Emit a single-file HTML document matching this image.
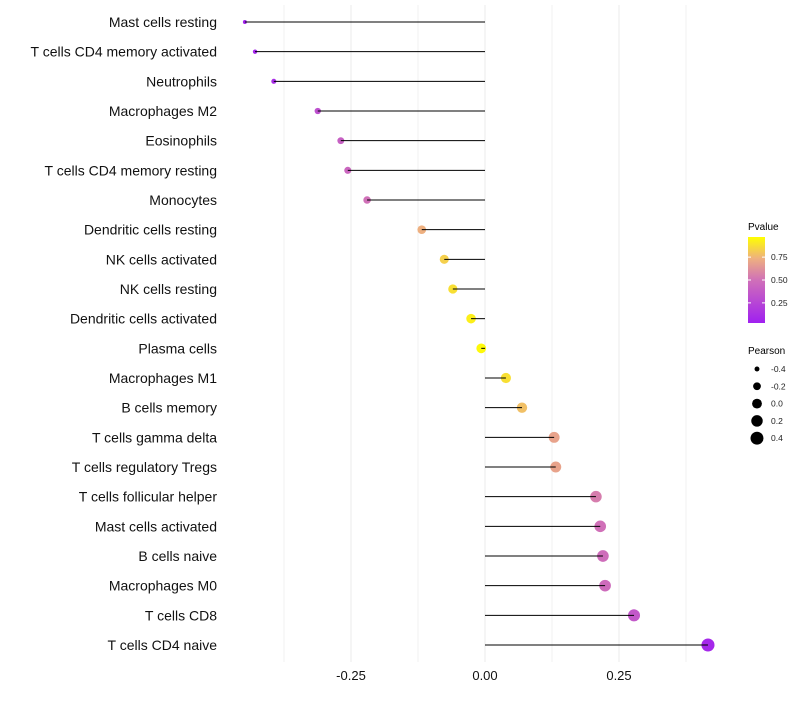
<!DOCTYPE html>
<html><head><meta charset="utf-8"><style>
body{margin:0;background:#fff;font-family:"Liberation Sans",sans-serif}
</style></head><body>
<svg id="c" width="800" height="700" xmlns="http://www.w3.org/2000/svg" font-family="Liberation Sans, sans-serif">
<defs><linearGradient id="pg" x1="0" y1="1" x2="0" y2="0">
<stop offset="0" stop-color="#a020f0"/><stop offset="0.5" stop-color="#d070b8"/><stop offset="0.75" stop-color="#eeb080"/><stop offset="1" stop-color="#ffff00"/></linearGradient></defs>
<g id="grid"></g>
<g id="marks"></g>
<g id="labels"></g>
<g id="xt"></g>
<g>
<text x="748" y="230" font-size="10">Pvalue</text>
<rect x="748" y="237" width="17" height="86" fill="url(#pg)"/>
<g id="pleg"></g>
</g>
<g>
<text x="748" y="354" font-size="10">Pearson</text>
<g id="sleg"></g>
</g>
</svg>
<script>
const categories=["Mast cells resting","T cells CD4 memory activated","Neutrophils","Macrophages M2","Eosinophils","T cells CD4 memory resting","Monocytes","Dendritic cells resting","NK cells activated","NK cells resting","Dendritic cells activated","Plasma cells","Macrophages M1","B cells memory","T cells gamma delta","T cells regulatory  Tregs ","T cells follicular helper","Mast cells activated","B cells naive","Macrophages M0","T cells CD8","T cells CD4 naive"];
const pearson=[-0.448,-0.429,-0.394,-0.312,-0.269,-0.256,-0.220,-0.118,-0.076,-0.060,-0.026,-0.007,0.039,0.069,0.129,0.132,0.207,0.215,0.220,0.224,0.278,0.416];
const pvalues=[0.02,0.04,0.08,0.3,0.4,0.44,0.5,0.75,0.85,0.9,0.95,0.98,0.9,0.8,0.7,0.7,0.55,0.5,0.48,0.47,0.35,0.05];
const xTicks=[-0.25,0,0.25];
const xTickLabels=["-0.25","0.00","0.25"];
const xMinor=[-0.375,-0.125,0.125,0.375];
const pTicks=[0.25,0.5,0.75];
const sizeTicks=[-0.4,-0.2,0,0.2,0.4];
const NS="http://www.w3.org/2000/svg";
const X=v=>485+v*536;
const Y=i=>22+i*(623/21);
const R=v=>Math.sqrt(Math.max(1,24+44.7*v));
const stops=[[0,[160,32,240]],[0.5,[208,112,184]],[0.75,[238,176,128]],[1,[255,255,0]]];
function col(p){for(let k=1;k<stops.length;k++){if(p<=stops[k][0]){const a=stops[k-1],b=stops[k],t=(p-a[0])/(b[0]-a[0]);return "rgb("+a[1].map((c,j)=>Math.round(c+(b[1][j]-c)*t)).join(",")+")";}}return "rgb(255,255,0)";}
function mk(tag,at,par){const e=document.createElementNS(NS,tag);for(const k in at)e.setAttribute(k,at[k]);document.getElementById(par).appendChild(e);return e;}
xMinor.forEach(v=>{const e=mk("line",{x1:X(v),x2:X(v),y1:5,y2:662,stroke:"#f2f2f2","stroke-width":1},"grid");

});
xTicks.forEach((v,i)=>{const e=mk("line",{x1:X(v),x2:X(v),y1:5,y2:662,stroke:"#ebebeb","stroke-width":1},"grid");


const t=mk("text",{x:X(v),y:680,"font-size":13,"text-anchor":"middle",fill:"#111"},"xt");t.textContent=xTickLabels[i];

});
categories.forEach((c,i)=>{const y=Y(i);
const t=mk("text",{x:217,y:y+5,"font-size":14,"text-anchor":"end",fill:"#111"},"labels");t.textContent=c;


const p=mk("circle",{cx:X(pearson[i]),cy:y,r:R(pearson[i]),fill:col(pvalues[i])},"marks");


const l=mk("line",{x1:X(0),x2:X(pearson[i]),y1:y,y2:y,stroke:"#000","stroke-width":1},"marks");

});
pTicks.forEach(v=>{const y=323-(v-0.03)/0.94*86;
mk("line",{x1:748,x2:751,y1:y,y2:y,stroke:"#fff"},"pleg");mk("line",{x1:762,x2:765,y1:y,y2:y,stroke:"#fff"},"pleg");
const t=mk("text",{x:771,y:y+3,"font-size":8.5,fill:"#222"},"pleg");t.textContent=v.toFixed(2);

});
sizeTicks.forEach((v,i)=>{const y=369+i*17.3;
const c=mk("circle",{cx:757,cy:y,r:R(v),fill:"#000"},"sleg");


const t=mk("text",{x:771,y:y+3,"font-size":8.5,fill:"#222"},"sleg");t.textContent=v.toFixed(1);

});
</script>
</body></html>
